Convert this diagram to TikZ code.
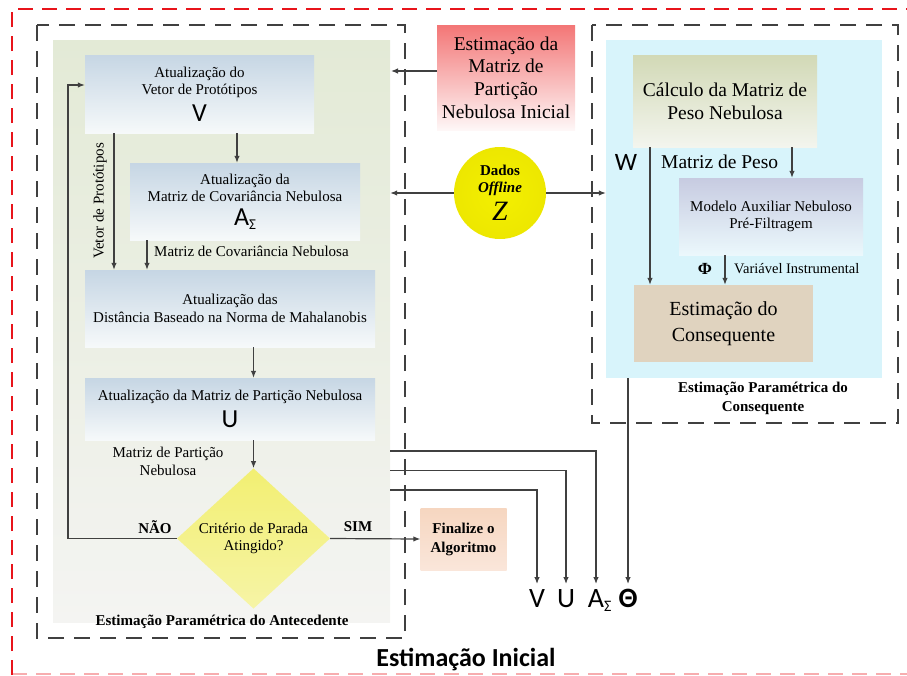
\documentclass[tikz,border=0pt]{standalone}
\usepackage{fontspec}
\setmainfont{Liberation Serif}
\newfontfamily\symfont{Carlito}
\usetikzlibrary{arrows.meta,shapes.geometric}

\definecolor{linegray}{HTML}{404040}
\definecolor{framered}{HTML}{E8141B}
\definecolor{bgcyan}{HTML}{D8F4FB}
\definecolor{conseq}{HTML}{E0D3BF}
\definecolor{bgltop}{HTML}{E3EAD6}
\definecolor{bglbot}{HTML}{F4F4F2}
\definecolor{boxtopblue}{HTML}{C6D6E4}
\definecolor{boxbotblue}{HTML}{F6F9FA}
\definecolor{diatop}{HTML}{F2EF72}
\definecolor{diabot}{HTML}{F6F4A6}
\definecolor{fintop}{HTML}{F6D6C0}
\definecolor{finbot}{HTML}{FAE6DA}
\definecolor{redtop}{HTML}{F37676}
\definecolor{redbot}{HTML}{FEF7F7}
\definecolor{ballin}{HTML}{F4F000}
\definecolor{ballout}{HTML}{EDE700}
\definecolor{calctop}{HTML}{D2D9B6}
\definecolor{calcbot}{HTML}{F3F5EE}
\definecolor{modtop}{HTML}{C7CBE1}
\definecolor{modbot}{HTML}{EBF8FC}

\newcommand{\bigsym}[1]{{\symfont\fontsize{26}{26}\selectfont #1}}
\newcommand{\subsig}{\raisebox{-4pt}{\fontsize{15}{15}\selectfont Σ}}

\tikzset{
  arr/.style={draw=linegray, line width=1.2pt, -{Latex[length=7pt,width=5.5pt]}},
  grayframe/.style={draw=linegray, line width=2.4pt, dash pattern=on 16pt off 10pt},
  redframe/.style={draw=framered, line width=2.4pt, dash pattern=on 15pt off 9pt},
  txt/.style={font=\fontsize{15}{17.5}\selectfont, align=center, inner sep=0pt},
  bigtxt/.style={font=\fontsize{19.5}{23}\selectfont, align=center, inner sep=0pt},
  boldtxt/.style={font=\bfseries\fontsize{15}{19}\selectfont, align=center, inner sep=0pt},
  bluebox/.style={rectangle, inner sep=0pt, top color=boxtopblue, bottom color=boxbotblue, txt},
  outsym/.style={font=\symfont\fontsize{28}{28}\selectfont, inner sep=0pt, anchor=north},
  insym/.style={font=\symfont\fontsize{25}{25}\selectfont},
}

\begin{document}
\begin{tikzpicture}[x=1pt, y=-1pt]
\useasboundingbox (0,0) rectangle (907,675);

% outer red frame, running off the right edge
\draw[redframe] (12,675) -- (12,9) -- (907,9);
\draw[redframe, draw opacity=0.35] (12,674) -- (907,674);

% backgrounds of the two stages
\node[rectangle, inner sep=0pt, minimum width=337pt, minimum height=582pt,
      top color=bgltop, bottom color=bglbot] (bgL) at (221.5,331) {};
\node[rectangle, inner sep=0pt, minimum width=276pt, minimum height=338pt,
      fill=bgcyan] (bgR) at (744,209) {};

% dashed group frames
\draw[grayframe] (37,25) rectangle (405,638);
\draw[grayframe] (592,25) rectangle (898,423);

% antecedent blocks
\node[bluebox, minimum width=229pt, minimum height=78pt] (bv) at (199.5,94)
  {Atualização do\\Vetor de Protótipos\\[6pt]\bigsym{V}};
\node[bluebox, minimum width=230pt, minimum height=77pt] (ba) at (245,201.5)
  {Atualização da\\Matriz de Covariância Nebulosa\\[6pt]\bigsym{A\subsig}};
\node[bluebox, minimum width=290pt, minimum height=77pt] (bd) at (230,308.5)
  {Atualização das\\Distância Baseado na Norma de Mahalanobis};
\node[bluebox, minimum width=290pt, minimum height=62pt] (bu) at (230,409)
  {Atualização da Matriz de Partição Nebulosa\\[6pt]\bigsym{U}};

\node[diamond, inner sep=0pt, minimum width=153pt, minimum height=133pt,
      top color=diatop, bottom color=diabot, txt] (dia) at (253.5,538.5)
  {Critério de Parada\\Atingido?};
\node[rectangle, inner sep=0pt, minimum width=86pt, minimum height=62pt,
      top color=fintop, bottom color=finbot, boldtxt] (fin) at (463.5,539)
  {Finalize o\\Algoritmo};

% initial partition matrix and data
\node[rectangle, inner sep=0pt, minimum width=138pt, minimum height=105pt,
      top color=redtop, bottom color=redbot, font=\fontsize{19.5}{22.7}\selectfont, align=center] (rb) at (506,77.5)
  {Estimação da\\Matriz de\\Partição\\Nebulosa Inicial};
\node[circle, inner sep=0pt, minimum size=92pt, inner color=ballin, outer color=ballout,
      align=center, font=\bfseries\fontsize{15}{17}\selectfont] (dz) at (500,193)
  {Dados\\\itshape Offline\\[6pt]{\mdseries\itshape\fontsize{28}{28}\selectfont Z}};

% consequent blocks
\node[rectangle, inner sep=0pt, minimum width=184pt, minimum height=92pt,
      top color=calctop, bottom color=calcbot, bigtxt] (bc) at (725,101)
  {Cálculo da Matriz de\\Peso Nebulosa};
\node[rectangle, inner sep=0pt, minimum width=184pt, minimum height=77pt,
      top color=modtop, bottom color=modbot, txt] (bm) at (771,216.5)
  {Modelo Auxiliar Nebuloso\\Pré-Filtragem};
\node[rectangle, inner sep=0pt, minimum width=179pt, minimum height=77pt,
      fill=conseq, font=\fontsize{20}{26}\selectfont, align=center] (bq) at (723.5,323.5)
  {Estimação do\\Consequente};

% labels
\node[txt, rotate=90] (lvp) at (100,201) {Vetor de Protótipos};
\node[txt, anchor=west] (lmc) at (154,251) {Matriz de Covariância Nebulosa};
\node[txt, font=\fontsize{15}{18}\selectfont] (lmp) at (168,461) {Matriz de Partição\\Nebulosa};
\node[boldtxt] (lnao) at (155,527) {NÃO};
\node[boldtxt] (lsim) at (358,527) {SIM};
\node[boldtxt] (lante) at (222,622) {Estimação Paramétrica do Antecedente};
\node[boldtxt] (lcons) at (763,398) {Estimação Paramétrica do\\Consequente};
\node[insym, inner sep=0pt] (lw) at (626,162) {W};
\node[bigtxt, anchor=west] (lmpeso) at (661,162) {Matriz de Peso};
\node[inner sep=0pt, font=\bfseries\fontsize{17}{17}\selectfont] (lphi) at (705,269) {Φ};
\node[txt, anchor=west, font=\fontsize{14.5}{17}\selectfont] (lvi) at (734,269) {Variável Instrumental};
\node[inner sep=0pt, font=\symfont\bfseries\fontsize{26}{26}\selectfont] (ltitle) at (466,660) {Estimação Inicial};

% outputs
\node[outsym] (oV) at (537,589) {V};
\node[outsym] (oU) at (566,589) {U};
\node[outsym] (oA) at (596,589) {A\rlap{\raisebox{-4pt}{\fontsize{16}{16}\selectfont Σ}}};
\node[outsym] (oT) at (628,589) {\bfseries Θ};

% antecedent flow
\draw[arr] (bv.south -| 237,0) -- (ba.north -| 237,0);
\draw[arr] (bv.south -| 114,0) -- (bd.north -| 114,0);
\draw[arr] (ba.south -| 147,0) -- (bd.north -| 147,0);
\draw[arr] (bd.south -| dia.north) -- (bu.north -| dia.north);
\draw[arr] (bu.south -| dia.north) -- (dia.north);
\coordinate (loop) at (68,538.5);
\draw[arr] (dia.west) -- (loop) |- ([yshift=9pt]bv.west);
\draw[arr] (dia.east) -- (fin.west);

% inputs into the two stages
\coordinate (inL) at (391,71);
\draw[arr] (rb.west |- inL) -- (inL);
\draw[arr] (dz.west) -- (bgL.east |- dz.west);
\draw[arr] (dz.east) -- (bgR.west |- dz.east);

% consequent flow
\draw[arr] (bc.south -| 650,0) -- (bq.north -| 650,0);
\draw[arr] (bc.south -| 792,0) -- (bm.north -| 792,0);
\draw[arr] (bm.south -| 725,0) -- (bq.north -| 725,0);

% results leaving the stages
\draw[arr] (bgL.east |- 0,451) -| ([yshift=5pt]oA.north);
\draw[arr] (bgL.east |- 0,470.5) -| ([yshift=5pt]oU.north);
\draw[arr] (bgL.east |- 0,490) -| ([yshift=5pt]oV.north);
\draw[arr] (bgR.south -| oT.north) -- ([yshift=5pt]oT.north);
\end{tikzpicture}
\end{document}
